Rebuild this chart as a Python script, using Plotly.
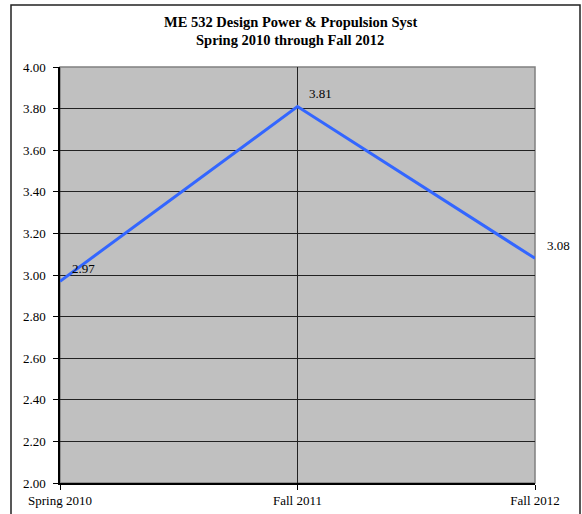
import plotly.graph_objects as go

categories = ["Spring 2010", "Fall 2011", "Fall 2012"]
values = [2.97, 3.81, 3.08]
label_text = ["2.97", "3.81", "3.08"]
y_ticks = [2.00, 2.20, 2.40, 2.60, 2.80, 3.00, 3.20, 3.40, 3.60, 3.80, 4.00]
title_lines = ["ME 532 Design Power &amp; Propulsion Syst", "Spring 2010 through Fall 2012"]

xpos = list(range(len(categories)))
FONT = "Liberation Serif, Times New Roman, serif"

W, H = 582, 514
L, R, T, B = 60, 47, 67, 31
PW, PH = W - L - R, H - T - B

fig = go.Figure()
fig.add_trace(go.Scatter(
    x=xpos, y=values, mode="lines",
    line=dict(color="#3366FF", width=3),
    hoverinfo="skip", showlegend=False,
))

for xi, v, t in zip(xpos, values, label_text):
    fig.add_annotation(x=xi, y=v, text=t, showarrow=False,
                       xshift=23, yshift=13,
                       font=dict(family=FONT, size=13, color="black"))

for line, ypx in zip(title_lines, [22, 40]):
    fig.add_annotation(xref="paper", yref="paper",
                       x=(290 - L) / PW, y=1 + (T - ypx) / PH,
                       xanchor="center", yanchor="middle", showarrow=False,
                       text="<b>" + line + "</b>",
                       font=dict(family=FONT, size=14.5, color="black"))

fig.add_shape(type="rect", xref="paper", yref="paper", x0=0, y0=0, x1=1, y1=1,
              line=dict(color="#808080", width=1.5), layer="between")
fig.add_shape(type="rect", xref="paper", yref="paper",
              x0=(11 - L) / PW, y0=-(B + 20) / PH,
              x1=(580 - L) / PW, y1=1 + (T - 5) / PH,
              line=dict(color="#222222", width=1.5), layer="above")

fig.update_layout(
    width=W, height=H,
    margin=dict(l=L, r=R, t=T, b=B, autoexpand=False),
    paper_bgcolor="white", plot_bgcolor="#C0C0C0",
    font=dict(family=FONT, size=13, color="black"),
    xaxis=dict(
        range=[0, 2], tickvals=xpos, ticktext=categories,
        showgrid=True, gridcolor="#222222", gridwidth=1,
        showline=True, linecolor="black", linewidth=1.5,
        ticks="outside", ticklen=5, tickcolor="black",
        ticklabelstandoff=0, automargin=False,
        tickfont=dict(family=FONT, size=13),
        zeroline=False, fixedrange=True,
    ),
    yaxis=dict(
        range=[2, 4], tickvals=y_ticks, tickformat=".2f",
        showgrid=True, gridcolor="#222222", gridwidth=1,
        showline=True, linecolor="black", linewidth=1.5,
        ticks="outside", ticklen=5, tickcolor="black",
        ticklabelstandoff=5, automargin=False,
        tickfont=dict(family=FONT, size=13),
        zeroline=False, fixedrange=True,
    ),
)

fig.write_html(
    "out.html",
    config={"displayModeBar": False},
    post_script="document.body.style.margin='0';document.body.style.overflow='hidden';",
)
